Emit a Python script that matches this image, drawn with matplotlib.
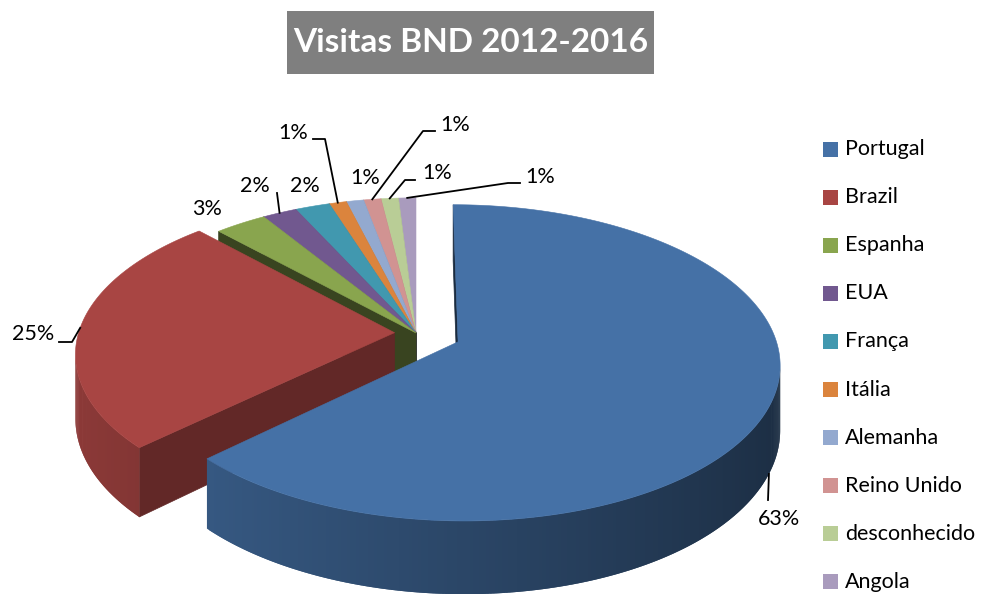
import numpy as np
import matplotlib.pyplot as plt
import matplotlib.colors as mcolors
from matplotlib.patches import Polygon, Rectangle
from matplotlib.collections import PolyCollection

plt.rcParams['font.family'] = ['Lato', 'DejaVu Sans']

# dados
paises = ['Portugal', 'Brazil', 'Espanha', 'EUA', 'França', 'Itália',
          'Alemanha', 'Reino Unido', 'desconhecido', 'Angola']
visitas = [63, 25, 3, 2, 2, 1, 1, 1, 1, 1]
cores = ['#4571A6', '#A84543', '#89A54E', '#71588F', '#4198AF', '#DB843D',
         '#93A9CF', '#D19392', '#B9CD96', '#A99BBD']
explode = [0.144, 0.068, 0, 0, 0, 0, 0, 0, 0, 0]
titulo = 'Visitas BND 2012-2016'

# layout (pixels) das etiquetas: posicao do texto e cotovelo da linha
pos_rotulos = [(779, 519), (33, 334), (207, 209), (255, 186), (305, 186),
               (293, 133), (365, 178), (455, 125), (437, 173), (540, 177)]
linhas_rotulos = [[(768, 500)], [(72, 342), (59, 342)], None, [(277, 193)], None,
                  [(325, 139), (313, 139)], None, [(423, 131), (435, 131)],
                  [(405, 180), (415, 180)], [(508, 183), (520, 183)]]

# geometria do bolo 3D
CX, CY = 416, 333
A, B, K, D = 316, 153, 0.132, 63


def proj(u, w, d=0.0):
    s = 1.0 / (1.0 + K * w)
    return CX + A * u * s, CY + (-B * w + D * d) * s


def area(pts):
    p = np.array(pts)
    x, y = p[:, 0], p[:, 1]
    return 0.5 * np.sum(x * np.roll(y, -1) - np.roll(x, -1) * y)


def shade(cor, f):
    r, g, b = mcolors.to_rgb(cor)
    return (r * f, g * f, b * f)


fig = plt.figure(figsize=(9.95, 5.94), dpi=100)
ax = fig.add_axes([0, 0, 1, 1])
ax.set_xlim(0, 995)
ax.set_ylim(594, 0)
ax.axis('off')

fr = np.array(visitas, dtype=float) / sum(visitas)
cum = np.concatenate([[0], np.cumsum(fr)])
t_ini = 90 - 360 * cum[:-1]
t_fim = 90 - 360 * cum[1:]
meio = (t_ini + t_fim) / 2
ordem = np.argsort(-np.sin(np.radians(meio)))

ancoras = {}
for i in ordem:
    m = np.radians(meio[i])
    ou, ow = explode[i] * np.cos(m), explode[i] * np.sin(m)
    n = max(int(abs(t_ini[i] - t_fim[i]) * 2), 4)
    ts = np.radians(np.linspace(t_fim[i], t_ini[i], n))
    us, ws = ou + np.cos(ts), ow + np.sin(ts)

    # faces radiais
    for k, sinal, tn in [(-1, -1, t_ini[i] + 90), (0, 1, t_fim[i] - 90)]:
        face = [proj(ou, ow), proj(us[k], ws[k]), proj(us[k], ws[k], 1), proj(ou, ow, 1)]
        if sinal * area(face) > 0:
            c = shade(cores[i], 0.5 + 0.12 * np.cos(np.radians(tn)))
            ax.add_patch(Polygon(face, closed=True, fc=c, ec=c, lw=0.5))

    # parede exterior (quads sobrepostos para nao deixar riscas)
    quads, cq = [], []
    for j in range(n - 1):
        if area([proj(us[j], ws[j]), proj(us[j + 1], ws[j + 1]),
                 proj(us[j + 1], ws[j + 1], 1), proj(us[j], ws[j], 1)]) <= 0:
            continue
        j2 = min(j + 2, n - 1)
        q = [proj(us[j], ws[j]), proj(us[j2], ws[j2]),
             proj(us[j2], ws[j2], 1), proj(us[j], ws[j], 1)]
        quads.append(q)
        cq.append(shade(cores[i], 0.62 - 0.22 * np.cos((ts[j] + ts[j + 1]) / 2)))
    if quads:
        ax.add_collection(PolyCollection(quads, facecolors=cq, edgecolors='none', linewidths=0))

    # topo
    topo = [proj(ou, ow)] + [proj(u, w) for u, w in zip(us, ws)]
    ax.add_patch(Polygon(topo, closed=True, fc=cores[i], ec=cores[i], lw=0.4))

    # ancora da etiqueta
    um, wm = ou + np.cos(m), ow + np.sin(m)
    ancoras[i] = proj(um, wm, 1 if np.sin(m) < -0.2 else 0)

# etiquetas de percentagem
for i, v in enumerate(visitas):
    ax.text(*pos_rotulos[i], f'{v:.0f}%', ha='center', va='center', fontsize=15.5, color='black')
    if linhas_rotulos[i]:
        pts = [ancoras[i]] + linhas_rotulos[i]
        xs, ys = zip(*pts)
        ax.plot(xs, ys, color='black', lw=1.3)

# legenda
for i, p in enumerate(paises):
    y = 149 + 48.1 * i
    ax.add_patch(Rectangle((823, y - 7.5), 15, 15, fc=cores[i], ec='none'))
    ax.text(845, y, p, ha='left', va='center', fontsize=15.5, color='black')

# titulo
ax.add_patch(Rectangle((287, 11), 367, 63, fc='#7F7F7F', ec='none'))
ax.text(470.5, 43, titulo, ha='center', va='center', fontsize=24, fontweight='bold', color='white')

fig.savefig('out.png', dpi=100)
